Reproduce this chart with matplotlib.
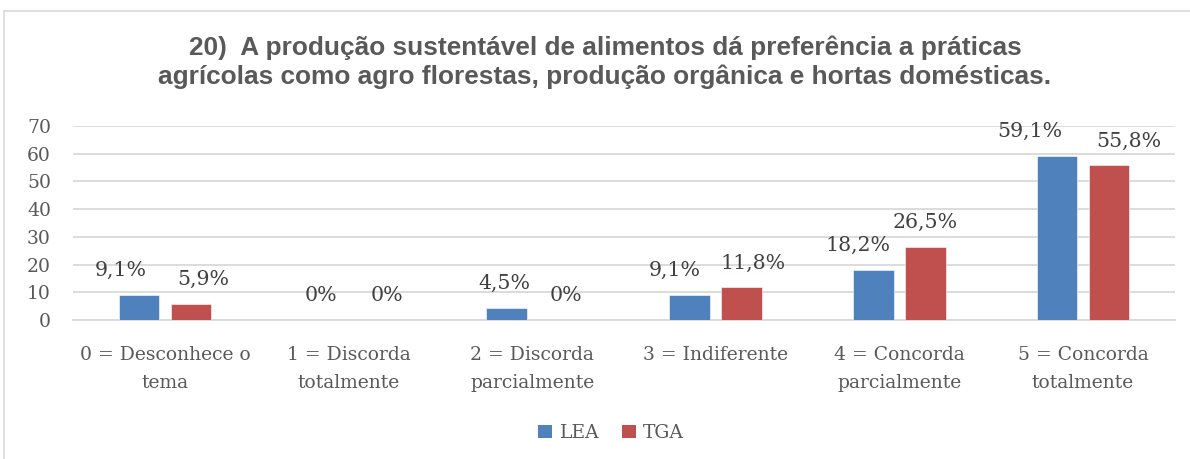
import matplotlib
matplotlib.use("Agg")
import matplotlib.pyplot as plt
from matplotlib.lines import Line2D
from matplotlib.patches import Patch
import numpy as np

# ---- data ----
categories = ["0 = Desconhece o\ntema", "1 = Discorda\ntotalmente", "2 = Discorda\nparcialmente",
              "3 = Indiferente", "4 = Concorda\nparcialmente", "5 = Concorda\ntotalmente"]
lea = [9.1, 0, 4.5, 9.1, 18.2, 59.1]
tga = [5.9, 0, 0, 11.8, 26.5, 55.8]
lea_labels = ["9,1%", "0%", "4,5%", "9,1%", "18,2%", "59,1%"]
tga_labels = ["5,9%", "0%", "0%", "11,8%", "26,5%", "55,8%"]
series_names = ["LEA", "TGA"]
yticks = [0, 10, 20, 30, 40, 50, 60, 70]
title = ("20)  A produção sustentável de alimentos dá preferência a práticas\n"
         "agrícolas como agro florestas, produção orgânica e hortas domésticas.")

# ---- style ----
BLUE = "#4F81BD"
RED = "#C0504D"
TXT = "#595959"
GRID = "#D9D9D9"
SERIF = "DejaVu Serif"
# horizontal label nudges (pixels), as in the original chart
lea_dx = [-18, -2, -2, -15, -15, -27]
tga_dx = [12, 12, 8, 11, 0, 20]

W, H = 1190, 459
fig = plt.figure(figsize=(W / 100, H / 100), dpi=100)

# outer frame
fig.add_artist(Line2D([4 / W, 1], [1 - 11 / H, 1 - 11 / H], color=GRID, lw=1.2, transform=fig.transFigure))
fig.add_artist(Line2D([4 / W, 4 / W], [0, 1 - 11 / H], color=GRID, lw=1.2, transform=fig.transFigure))

ax = fig.add_axes([73.2 / W, 1 - 320 / H, (1174.8 - 73.2) / W, (320 - 126) / H])
x = np.arange(len(categories))
bw = 0.223
off = 0.1416
ax.bar(x - off, lea, bw, color=BLUE, edgecolor="white", linewidth=0.4, zorder=3)
ax.bar(x + off, tga, bw, color=RED, edgecolor="white", linewidth=0.4, zorder=3)

for xi, v, lab, dx in zip(x - off, lea, lea_labels, lea_dx):
    ax.annotate(lab, (xi, v), xytext=(dx * 0.72, 17.5), textcoords="offset points",
                ha="center", va="center", fontsize=14.8, family=SERIF, color="#404040")
for xi, v, lab, dx in zip(x + off, tga, tga_labels, tga_dx):
    ax.annotate(lab, (xi, v), xytext=(dx * 0.72, 17.5), textcoords="offset points",
                ha="center", va="center", fontsize=14.8, family=SERIF, color="#404040")

ax.set_xlim(-0.5, len(categories) - 0.5)
ax.set_ylim(0, 70)
ax.set_yticks(yticks)
ax.set_yticklabels([str(t) for t in yticks], family=SERIF, fontsize=13.5, color=TXT)
ax.set_xticks(x)
ax.set_xticklabels(categories, family=SERIF, fontsize=13.5, color=TXT, linespacing=1.68)
ax.tick_params(axis="both", length=0)
ax.tick_params(axis="y", pad=16)
ax.tick_params(axis="x", pad=19)
ax.yaxis.grid(True, color=GRID, lw=1.3, zorder=0)
ax.set_axisbelow(True)
for s in ["top", "right", "left"]:
    ax.spines[s].set_visible(False)
ax.spines["bottom"].set_color(GRID)
ax.spines["bottom"].set_linewidth(1.3)

fig.text(605 / W, 1 - 62.5 / H, title, ha="center", va="center", fontsize=18.9,
         fontweight="bold", family="Liberation Sans", color=TXT, linespacing=1.22)

handles = [Patch(facecolor=BLUE), Patch(facecolor=RED)]
fig.legend(handles, series_names, loc="center", bbox_to_anchor=(611 / W, 1 - 433 / H),
           ncol=2, frameon=False, prop={"family": SERIF, "size": 13.5},
           handlelength=0.75, handleheight=0.75, handletextpad=0.4, columnspacing=1.2,
           labelcolor=TXT)

fig.savefig("out.png", dpi=100)
